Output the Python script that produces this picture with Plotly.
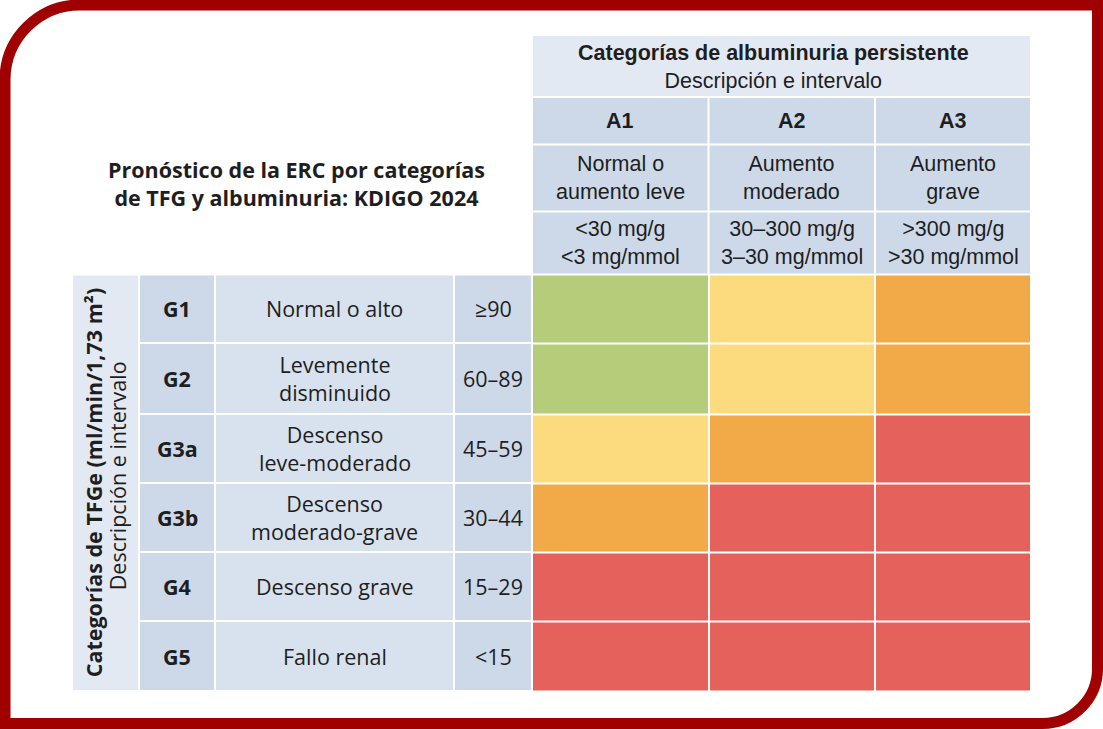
import plotly.graph_objects as go

# Datos de la tabla KDIGO 2024
albumin_codes = ["A1", "A2", "A3"]
albumin_desc = ["Normal o<br>aumento leve", "Aumento<br>moderado", "Aumento<br>grave"]
albumin_ranges = ["&lt;30 mg/g<br>&lt;3 mg/mmol", "30–300 mg/g<br>3–30 mg/mmol", "&gt;300 mg/g<br>&gt;30 mg/mmol"]

gfr_codes = ["G1", "G2", "G3a", "G3b", "G4", "G5"]
gfr_desc = ["Normal o alto", "Levemente<br>disminuido", "Descenso<br>leve-moderado",
            "Descenso<br>moderado-grave", "Descenso grave", "Fallo renal"]
gfr_ranges = ["≥90", "60–89", "45–59", "30–44", "15–29", "&lt;15"]

# 0 = bajo, 1 = moderado, 2 = alto, 3 = muy alto
risk = [
    [0, 1, 2],
    [0, 1, 2],
    [1, 2, 3],
    [2, 3, 3],
    [3, 3, 3],
    [3, 3, 3],
]
risk_colors = ["#b5cc7a", "#fcdb7e", "#f2a947", "#e4625b"]

title_text = "Pronóstico de la ERC por categorías<br>de TFG y albuminuria: KDIGO 2024"
header_title = "Categorías de albuminuria persistente"
header_sub = "Descripción e intervalo"
side_title = "Categorías de TFGe (ml/min/1,73 m²)"
side_sub = "Descripción e intervalo"

# Geometría (px, ejes = píxeles de la figura)
W, H = 1103, 729
grid_x = [532, 708.5, 875, 1031]
left_x = [72, 139, 215, 454, 532]
header_y = [35, 97, 144.5, 211.5, 274.5]
body_y = [274.5, 343, 414, 483, 552, 621, 691]
GAP = 2
FS = 21.5

DARK = "#1e1e1e"
FRAME = "#a10000"
LIGHT = "#e3e9f3"
MID = "#cdd9e9"
PALE = "#d8e1ee"
SANS = "Open Sans"
ARIAL = "Arial, Liberation Sans"


def mid(a, b):
    return (a + b) / 2


def cell(x0, x1, y0, y1, color):
    h = GAP / 2
    return dict(type="rect", xref="x", yref="y", x0=x0 + h, x1=x1 - h, y0=y0 + h, y1=y1 - h,
                fillcolor=color, line=dict(width=0), layer="below")


def label(x, y, text, size, family, bold=False, angle=0):
    return dict(x=x, y=y, xref="x", yref="y", text=f"<b>{text}</b>" if bold else text,
                showarrow=False, textangle=angle, align="center",
                font=dict(family=family, size=size, color=DARK))


n = len(risk_colors)
colorscale = []
for i, c in enumerate(risk_colors):
    colorscale += [[i / n, c], [(i + 1) / n, c]]

fig = go.Figure(go.Heatmap(
    z=risk, x=grid_x, y=body_y,
    colorscale=colorscale, zmin=-0.5, zmax=n - 0.5,
    xgap=GAP, ygap=GAP, showscale=False, hoverinfo="skip"
))

shapes = []
annotations = []

# bloque superior de albuminuria
shapes.append(cell(grid_x[0], grid_x[-1], header_y[0], header_y[1], LIGHT))
annotations.append(label(773, mid(header_y[0], header_y[1]) + 1,
                         f"<b>{header_title}</b><br>{header_sub}", FS, ARIAL))

for j, (code, desc, rng) in enumerate(zip(albumin_codes, albumin_desc, albumin_ranges)):
    x0, x1 = grid_x[j], grid_x[j + 1]
    for k, txt in enumerate([code, desc, rng]):
        y0, y1 = header_y[k + 1], header_y[k + 2]
        shapes.append(cell(x0, x1, y0, y1, MID))
        annotations.append(label(mid(x0, x1), mid(y0, y1), txt, FS, ARIAL, bold=(k == 0)))

# columna lateral
shapes.append(cell(left_x[0], left_x[1], body_y[0], body_y[-1], LIGHT))
annotations.append(label(mid(left_x[0], left_x[1]) - 12, mid(body_y[0], body_y[-1]),
                         side_title, FS, SANS, bold=True, angle=-90))
annotations.append(label(mid(left_x[0], left_x[1]) + 12, mid(body_y[0], body_y[-1]) - 7,
                         side_sub, FS, SANS, angle=-90))

col_colors = [MID, PALE, MID]
for i, (code, desc, rng) in enumerate(zip(gfr_codes, gfr_desc, gfr_ranges)):
    y0, y1 = body_y[i], body_y[i + 1]
    for k, txt in enumerate([code, desc, rng]):
        x0, x1 = left_x[k + 1], left_x[k + 2]
        shapes.append(cell(x0, x1, y0, y1, col_colors[k]))
        annotations.append(label(mid(x0, x1), mid(y0, y1), txt, FS, SANS, bold=(k == 0)))

annotations.append(label(296, 183, title_text, FS, SANS, bold=True))

# marco rojo con esquinas redondeadas (sup. izq. e inf. der.)
L, T, R, B = 5, 5, W - 5.5, H - 5.5
r1, r2, kc = 75, 55, 0.5523
frame_path = (
    f"M {L},{T + r1} C {L},{T + r1 - kc * r1} {L + r1 - kc * r1},{T} {L + r1},{T} "
    f"L {R},{T} L {R},{B - r2} "
    f"C {R},{B - r2 + kc * r2} {R - r2 + kc * r2},{B} {R - r2},{B} "
    f"L {L},{B} Z"
)
shapes.append(dict(type="path", xref="x", yref="y", path=frame_path,
                   line=dict(color=FRAME, width=11), layer="above"))

fig.update_layout(
    width=W, height=H,
    margin=dict(l=0, r=0, t=0, b=0),
    paper_bgcolor="white", plot_bgcolor="white",
    xaxis=dict(range=[0, W], visible=False, fixedrange=True),
    yaxis=dict(range=[H, 0], visible=False, fixedrange=True),
    shapes=shapes, annotations=annotations,
    showlegend=False,
)

# sin el margen por defecto del <body>, la figura ocupa toda la ventana
fig.write_html("out.html", config={"displayModeBar": False},
               post_script="document.body.style.margin='0';document.body.style.overflow='hidden';")
